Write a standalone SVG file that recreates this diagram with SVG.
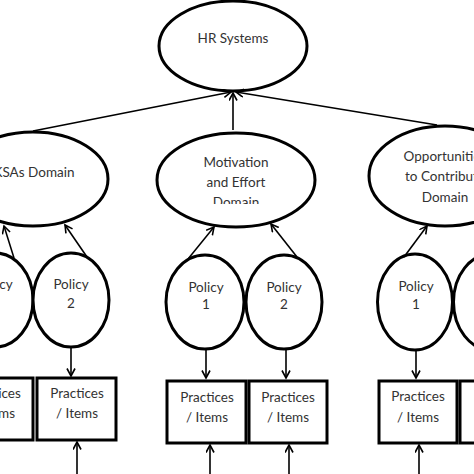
<svg xmlns="http://www.w3.org/2000/svg" width="474" height="474" viewBox="0 0 474 474">
<style>
.node{fill:#fff;stroke:#000;stroke-width:3}
.lbl{font-family:Lato,"Open Sans","Liberation Sans",sans-serif;font-size:13.5px;fill:#333;text-anchor:middle}
.conn line{stroke:#000;stroke-width:1.6;marker-end:url(#arr)}
</style>
<defs>
<marker id="arr" markerUnits="userSpaceOnUse" markerWidth="12" markerHeight="12" refX="8" refY="4.5" orient="auto" viewBox="0 0 12 12">
<path d="M0.5,0.5 L8,4.5 L0.5,8.5" fill="none" stroke="#000" stroke-width="1.6"/>
</marker>
<clipPath id="clipMot"><rect x="150" y="130" width="180" height="74"/></clipPath>
</defs>
<rect width="474" height="474" fill="#fff"/>

<g id="hr"><ellipse class="node" cx="233" cy="46" rx="74" ry="45"/><text class="lbl" x="233" y="43">HR Systems</text></g>

<g id="ksas"><ellipse class="node" cx="33" cy="179" rx="75" ry="47"/><text class="lbl" x="34" y="177">KSAs Domain</text></g>
<g id="motivation"><ellipse class="node" cx="236" cy="180" rx="79" ry="47"/>
<g clip-path="url(#clipMot)"><text class="lbl" x="236" y="167">Motivation</text><text class="lbl" x="236" y="187">and Effort</text><text class="lbl" x="236" y="207">Domain</text></g></g>
<g id="opportunity"><ellipse class="node" cx="445" cy="176" rx="76" ry="50"/><text class="lbl" x="445" y="161">Opportunities</text><text class="lbl" x="445" y="181">to Contribute</text><text class="lbl" x="445" y="202">Domain</text></g>

<g id="k-p1"><ellipse class="node" cx="-5" cy="300" rx="38" ry="47"/><text class="lbl" x="-5" y="289">Policy</text><text class="lbl" x="-5" y="308">1</text></g>
<g id="k-p2"><ellipse class="node" cx="71" cy="300" rx="38" ry="47"/><text class="lbl" x="71" y="289">Policy</text><text class="lbl" x="71" y="308">2</text></g>
<g id="m-p1"><ellipse class="node" cx="205" cy="302" rx="39" ry="47"/><text class="lbl" x="206" y="292">Policy</text><text class="lbl" x="206" y="309">1</text></g>
<g id="m-p2"><ellipse class="node" cx="284" cy="302" rx="38" ry="47"/><text class="lbl" x="284" y="292">Policy</text><text class="lbl" x="284" y="309">2</text></g>
<g id="o-p1"><ellipse class="node" cx="415" cy="302" rx="37.5" ry="48"/><text class="lbl" x="416" y="291">Policy</text><text class="lbl" x="416" y="309">1</text></g>
<g id="o-p2"><ellipse class="node" cx="491" cy="302" rx="37.5" ry="48"/><text class="lbl" x="492" y="291">Policy</text><text class="lbl" x="492" y="309">2</text></g>

<g id="k-b1"><rect class="node" x="-46" y="378" width="79" height="62"/><text class="lbl" x="-6" y="398">Practices</text><text class="lbl" x="-6" y="418">/ Items</text></g>
<g id="k-b2"><rect class="node" x="37" y="378" width="79" height="62"/><text class="lbl" x="77" y="398">Practices</text><text class="lbl" x="77" y="418">/ Items</text></g>
<g id="m-b1"><rect class="node" x="167" y="381" width="79" height="62"/><text class="lbl" x="207" y="402">Practices</text><text class="lbl" x="207" y="422">/ Items</text></g>
<g id="m-b2"><rect class="node" x="249" y="381" width="78" height="62"/><text class="lbl" x="288" y="402">Practices</text><text class="lbl" x="288" y="422">/ Items</text></g>
<g id="o-b1"><rect class="node" x="379" y="381" width="78" height="62"/><text class="lbl" x="418" y="401">Practices</text><text class="lbl" x="418" y="422">/ Items</text></g>
<g id="o-b2"><rect class="node" x="460" y="381" width="78" height="62"/></g>

<g id="connectors" class="conn">
<line x1="33" y1="131" x2="231" y2="92"/>
<line x1="233" y1="130" x2="233" y2="93"/>
<line x1="437" y1="125" x2="236" y2="92"/>
<line x1="14" y1="258" x2="4" y2="226"/>
<line x1="87" y1="257" x2="65" y2="225"/>
<line x1="188" y1="259" x2="214" y2="227"/>
<line x1="297" y1="257" x2="271" y2="224"/>
<line x1="404" y1="257" x2="427" y2="226"/>
<line x1="71" y1="347" x2="71" y2="376"/>
<line x1="206" y1="350" x2="206" y2="378"/>
<line x1="286" y1="350" x2="286" y2="378"/>
<line x1="416" y1="350" x2="416" y2="378"/>
<line x1="77" y1="474" x2="77" y2="442"/>
<line x1="210" y1="474" x2="210" y2="445"/>
<line x1="289" y1="474" x2="289" y2="445"/>
<line x1="419" y1="474" x2="419" y2="445"/>
</g>
</svg>
